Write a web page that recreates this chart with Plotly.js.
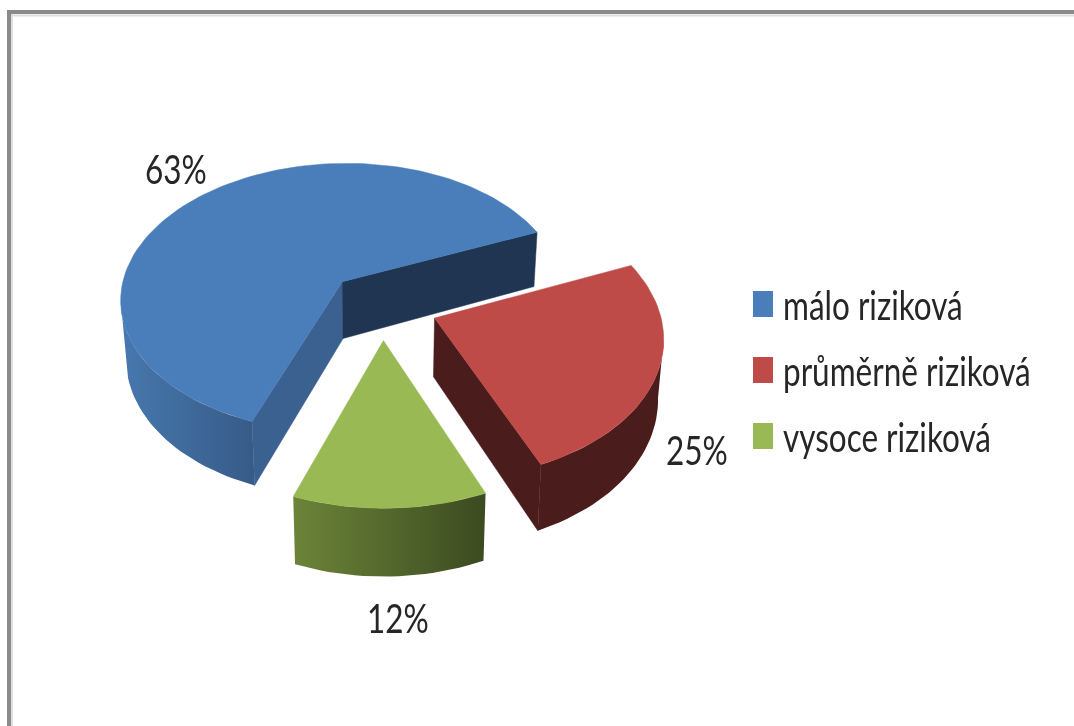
<!DOCTYPE html>
<html>
<head>
<meta charset="utf-8">
<script src="https://cdn.plot.ly/plotly-3.0.1.min.js"></script>
<style>
html,body{margin:0;padding:0;background:#fff;overflow:hidden}
#chart{width:1074px;height:726px;filter:blur(0.6px)}
/* the reference image is stretched vertically: tall narrow glyphs and swatches */
#chart .legendtext, #chart .annotation-text{
  transform-box:fill-box;transform-origin:center;transform:scaleY(1.3);
}
#chart .legendpoints path{
  transform-box:fill-box;transform-origin:center;transform:translate(20px,0) scaleY(1.3);
}
</style>
</head>
<body>
<div id="chart"></div>
<script>
// Data
const categories = ['málo riziková', 'průměrně riziková', 'vysoce riziková'];
const shares = [63, 25, 12];

// Colours
const topColors = ['#4a7ebb', '#be4b48', '#98b954'];
const wallGradients = [['#4778af', '#375b87'], ['#4a1c1b', '#4a1c1b'], ['#6c8439', '#3b4a20']];
const startFaceColors = ['#3a618f', null, null];
const endFaceColors = ['#1f3552', '#4a1c1b', null];
const textColor = '#262626';
const fontStack = 'Lato,"Open Sans",sans-serif';

// Camera and pie geometry (pixel units of the hidden axes)
const cam = {cx: 382, cy: 305, R: 224, tilt: 0.616, depth: 8.26, height: 58, converge: 0.02};
const explode = 0.25;
const firstAngle = 110.2;
const wallFrom = 8, wallTo = 172; // where the rim turns away from the viewer
const rad = a => a * Math.PI / 180;

function project(X, Y, Z) {
  const f = cam.depth / (cam.depth - Y);
  return [cam.cx + cam.R * X * f * (1 - cam.converge * Z), cam.cy + cam.tilt * cam.R * Y * f + cam.height * Z * f];
}
function rim(ox, oy, a, z) { return project(ox + Math.cos(rad(a)), oy + Math.sin(rad(a)), z); }
function arc(ox, oy, a0, a1, z) {
  const pts = [], n = Math.max(2, Math.ceil(Math.abs(a1 - a0) / 2));
  for (let i = 0; i <= n; i++) pts.push(rim(ox, oy, a0 + (a1 - a0) * i / n, z));
  return pts;
}
function poly(pts, extra) {
  return Object.assign({
    x: pts.map(p => p[0]).concat(pts[0][0]),
    y: pts.map(p => p[1]).concat(pts[0][1]),
    mode: 'lines', fill: 'toself', hoverinfo: 'skip', showlegend: false
  }, extra);
}
function solid(pts, color) {
  return poly(pts, {fillcolor: color, line: {color: color, width: 0.5}});
}

const total = shares.reduce((a, b) => a + b, 0);
const traces = [];
let angle = firstAngle;
shares.forEach((v, i) => {
  const sweep = v / total * 360, a0 = angle, a1 = angle + sweep;
  angle = a1;
  const mid = rad((a0 + a1) / 2);
  const ox = explode * Math.cos(mid), oy = explode * Math.sin(mid);
  const apexT = project(ox, oy, 0), apexB = project(ox, oy, 1);

  if (startFaceColors[i]) {
    traces.push(solid([apexT, rim(ox, oy, a0, 0), rim(ox, oy, a0, 1), apexB], startFaceColors[i]));
  }
  if (endFaceColors[i]) {
    traces.push(solid([apexT, rim(ox, oy, a1, 0), rim(ox, oy, a1, 1), apexB], endFaceColors[i]));
  }
  const spans = [[a0, a1], [a0 - 360, a1 - 360]];
  spans.forEach(s => {
    const lo = Math.max(s[0], wallFrom), hi = Math.min(s[1], wallTo);
    if (hi > lo) {
      const pts = arc(ox, oy, lo, hi, 0).concat(arc(ox, oy, hi, lo, 1));
      const g = wallGradients[i];
      traces.push(poly(pts, {
        line: {color: 'rgba(0,0,0,0)', width: 0},
        fillgradient: {type: 'horizontal', colorscale: [[0, g[0]], [1, g[1]]]}
      }));
    }
  });
  traces.push(solid([apexT].concat(arc(ox, oy, a0, a1, 0)), topColors[i]));
});

// Legend entries
categories.forEach((name, i) => {
  traces.push({
    x: [null], y: [null], name: name, mode: 'markers', legendgroup: name, hoverinfo: 'skip',
    marker: {symbol: 'square', size: 16, color: topColors[i], line: {color: topColors[i], width: 4}}
  });
});

// Percentage labels
const labelX = [176, 697, 398];
const labelY = [168, 449, 617];
const annotations = shares.map((v, i) => ({
  x: labelX[i], y: labelY[i], xref: 'x', yref: 'y', text: v + '%', showarrow: false,
  font: {family: fontStack, size: 31.5, color: textColor}, xanchor: 'center', yanchor: 'middle'
}));

const layout = {
  width: 1074, height: 726,
  margin: {l: 0, r: 0, t: 0, b: 0},
  paper_bgcolor: '#fff', plot_bgcolor: '#fff',
  xaxis: {range: [0, 1074], visible: false, fixedrange: true},
  yaxis: {range: [726, 0], visible: false, fixedrange: true},
  showlegend: true,
  legend: {
    x: 743 / 1074, y: 1 - 277 / 726, xanchor: 'left', yanchor: 'top',
    font: {family: fontStack, size: 31.5, color: textColor},
    tracegroupgap: 22, bgcolor: 'rgba(0,0,0,0)', itemclick: false, itemdoubleclick: false
  },
  annotations: annotations,
  shapes: [
    {type: 'line', x0: 8, x1: 1074, y0: 15.5, y1: 15.5, line: {color: '#dedede', width: 2}},
    {type: 'line', x0: 12, x1: 12, y0: 12, y1: 726, line: {color: '#dedede', width: 2}},
    {type: 'line', x0: 7, x1: 1074, y0: 12, y1: 12, line: {color: '#8a8a8a', width: 4}},
    {type: 'line', x0: 9, x1: 9, y0: 10, y1: 726, line: {color: '#8a8a8a', width: 4}}
  ]
};
Plotly.newPlot('chart', traces, layout, {displayModeBar: false, staticPlot: true});
</script>
</body>
</html>
